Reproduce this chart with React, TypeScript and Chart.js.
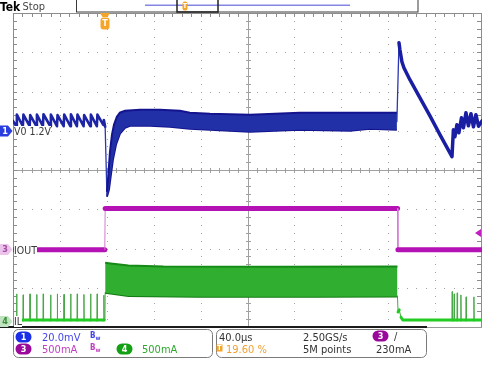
import React, { useEffect, useRef } from 'react';
import { Chart, registerables } from 'chart.js';
Chart.register(...registerables);

// ---- time base: 40 µs/div, 10 divisions, trigger at 19.6 %
const T_MIN = -78.4;
const T_MAX = 321.6;
const T_DIV = 40;

// ---- channel vertical settings (scale per div, ground position in divs)
const CH1_SCALE = 20;   // mV/div, offset 1.2 V
const CH1_POS = 1;
const CH3_SCALE = 500;  // mA/div
const CH3_POS = -2;
const CH4_SCALE = 500;  // mA/div
const CH4_POS = -3.87;

// ---- CH1 (V0, mV relative to 1.2 V)
const ch1Before: [number, number][] = [
  [-78.4, 5.0],
  [-75.6, 2.3], [-75.1, 8.2], [-70.0, 2.3], [-69.5, 8.2], [-64.2, 2.3], [-63.7, 8.0],
  [-58.5, 2.3], [-58.0, 8.2], [-52.9, 2.3], [-52.4, 8.4], [-46.6, 2.3], [-46.1, 8.2],
  [-40.9, 2.3], [-40.4, 8.0], [-35.2, 2.3], [-34.7, 8.2], [-29.5, 2.3], [-29.0, 8.4],
  [-23.9, 2.3], [-23.4, 8.2], [-18.2, 2.3], [-17.7, 8.0], [-12.5, 2.3], [-12.0, 8.2],
  [-6.9, 2.3], [-6.4, 8.2], [-1.4, 3.0], [-0.9, 5.5], [0.2, 2.0], [1.7, -32.5],
];
const ch1BandHigh: [number, number][] = [
  [1.7, -31.1], [2.6, -25.0], [4.3, -10.7], [6.0, -2.0], [7.7, 3.1], [10.2, 7.1],
  [12.8, 9.2], [17.1, 10.2], [29.9, 10.7], [46.9, 10.7], [64.0, 10.2], [72.5, 9.2],
  [89.6, 8.7], [123.7, 8.2], [166.3, 9.2], [208.9, 9.2], [249.0, 9.2],
];
const ch1BandLow: [number, number][] = [
  [1.7, -33.6], [3.4, -30.1], [5.1, -22.4], [6.8, -14.8], [9.4, -7.1], [12.8, -1.5],
  [17.1, 1.5], [21.3, 2.5], [38.4, 2.5], [55.4, 2.0], [72.5, 1.0], [89.6, 0.5],
  [123.7, -0.5], [166.3, 0.5], [208.9, 0.0], [226.0, 1.0], [249.0, 0.5],
];
const ch1After: [number, number][] = [
  [249.0, 4.6], [250.8, 44.8], [251.6, 41.3], [253.3, 35.2], [255.0, 32.1],
  [260.1, 26.0], [268.7, 16.8], [277.2, 7.6], [285.7, -2.0], [296.0, -13.2],
  [297.2, 0.5], [298.5, -3.1], [300.2, 3.1], [301.9, -1.0], [304.1, 6.6], [305.8, 1.5],
  [307.9, 9.2], [310.0, 2.5], [312.2, 8.7], [314.3, 2.0], [316.4, 8.2], [318.6, 2.3],
  [321.6, 5.0],
];

// ---- CH3 (IOUT, mA)
const iout: [number, number][] = [
  [-78.4, -15], [-0.1, -15], [0.2, 510], [249.6, 510], [249.9, -15], [321.6, -15],
];

// ---- CH4 (IL, mA)
const ilBase = 25;
const ilSpikeTimesBefore = [-75.3, -69.7, -63.9, -58.2, -52.6, -46.3, -40.6, -34.9, -29.2, -23.6, -17.9, -12.2, -6.6, -0.9];
const ilSpikeHeightsBefore = [357, 345, 357, 350, 357, 345, 357, 350, 357, 357, 350, 357, 357, 340];
const ilBandHigh: [number, number][] = [
  [0.2, 752], [5.0, 745], [20.0, 720], [50.0, 705], [150.0, 701], [249.5, 705],
];
const ilBandLow: [number, number][] = [
  [0.2, 370], [20.0, 331], [80.0, 319], [180.0, 319], [249.5, 325],
];
const ilRelease: [number, number][] = [
  [249.5, 325], [250.0, 127], [251.0, 153], [252.5, 60], [254.0, 25],
];
const ilSpikeTimesAfter = [296.2, 297.9, 300.5, 303.6, 308.1, 314.7];
const ilSpikeHeightsAfter = [386, 357, 370, 344, 319, 319];

const FONT = '"Liberation Sans Narrow", "DejaVu Sans Condensed", "Roboto", sans-serif';

const toDiv = (pts: [number, number][], scale: number, pos: number) =>
  pts.map(([t, v]) => ({ x: t, y: pos + v / scale }));

const spikes = (times: number[], heights: number[]): [number, number][] => {
  const out: [number, number][] = [];
  times.forEach((t, i) => {
    out.push([t - 0.25, ilBase], [t, heights[i]], [t + 0.25, ilBase]);
  });
  return out;
};

const ilBefore: [number, number][] = [
  [T_MIN, ilBase], ...spikes(ilSpikeTimesBefore, ilSpikeHeightsBefore), [0.0, ilBase], [0.2, 370],
];
const ilAfter: [number, number][] = [
  ...ilRelease, ...spikes(ilSpikeTimesAfter, ilSpikeHeightsAfter), [T_MAX, ilBase],
];

const trace = (data: any[], color: string, width: number, thinColor: string, ratio: number, thinW = 1) => {
  const steep = (c: any) => Math.abs(c.p1.y - c.p0.y) > ratio * Math.abs(c.p1.x - c.p0.x);
  return {
    data,
    borderColor: color,
    borderWidth: width,
    pointRadius: 0,
    tension: 0,
    fill: false,
    borderJoinStyle: 'round',
    borderCapStyle: 'round',
    segment: {
      borderWidth: (c: any) => (steep(c) ? thinW : undefined),
      borderColor: (c: any) => (steep(c) ? thinColor : undefined),
    },
  };
};

const band = (data: any[], edge: string, fillColor: string | false) => ({
  data,
  borderColor: edge,
  borderWidth: 2,
  pointRadius: 0,
  tension: 0,
  fill: fillColor ? '+1' : false,
  backgroundColor: fillColor || 'transparent',
});

const scopeGrid = {
  id: 'scopeGrid',
  beforeDatasetsDraw(chart: any) {
    const { ctx, chartArea: a, scales } = chart;
    const xs = scales.x;
    const ys = scales.y;
    const X = (t: number) => Math.round(xs.getPixelForValue(t));
    const Y = (d: number) => Math.round(ys.getPixelForValue(d));
    ctx.save();
    ctx.fillStyle = '#a3a3a3';
    for (let k = 1; k < 10; k++) {
      if (k === 5) continue;
      const x = X(T_MIN + k * T_DIV);
      for (let m = 1; m < 40; m++) ctx.fillRect(x, Y(-4 + m * 0.2), 1, 1);
    }
    for (let j = -3; j <= 3; j++) {
      if (j === 0) continue;
      const y = Y(j);
      for (let m = 1; m < 50; m++) ctx.fillRect(X(T_MIN + m * 8), y, 1, 1);
    }
    const cx = X(T_MIN + 5 * T_DIV);
    const cy = Y(0);
    ctx.fillStyle = '#a0a0a0';
    ctx.fillRect(cx, a.top, 1, a.bottom - a.top);
    ctx.fillRect(a.left, cy, a.right - a.left, 1);
    for (let m = 1; m < 50; m++) ctx.fillRect(X(T_MIN + m * 8), cy - 2, 1, 5);
    for (let m = 1; m < 40; m++) ctx.fillRect(cx - 2, Y(-4 + m * 0.2), 5, 1);
    ctx.fillStyle = '#8c8c8c';
    for (let m = 1; m < 50; m++) ctx.fillRect(X(T_MIN + m * 8), a.top, 1, 4);
    for (let m = 1; m < 40; m++) {
      const y = Y(-4 + m * 0.2);
      ctx.fillRect(a.left, y, 4, 1);
      ctx.fillRect(a.right - 5, y, 4, 1);
    }
    ctx.fillRect(a.left, a.top, a.right - a.left, 1);
    ctx.fillRect(a.left, a.top, 1, a.bottom - a.top);
    ctx.fillRect(a.right - 1, a.top, 1, a.bottom - a.top);
    ctx.restore();
  },
};

const pill = (ctx: any, cx: number, cy: number, color: string) => {
  ctx.fillStyle = color;
  ctx.beginPath();
  ctx.roundRect(cx - 8, cy - 5.5, 16, 11, 5.5);
  ctx.fill();
};

const chMarker = (ctx: any, cy: number, color: string) => {
  ctx.fillStyle = color;
  ctx.beginPath();
  ctx.moveTo(0, cy - 5.5);
  ctx.lineTo(8, cy - 5.5);
  ctx.lineTo(12.5, cy);
  ctx.lineTo(8, cy + 5.5);
  ctx.lineTo(0, cy + 5.5);
  ctx.closePath();
  ctx.fill();
};

const decorations = {
  id: 'decorations',
  afterDraw(chart: any) {
    const ctx = chart.ctx;
    ctx.save();
    // bottom frame line
    ctx.fillStyle = '#1c1c1c';
    ctx.fillRect(0, 326, 427, 2);
    ctx.fillStyle = '#9a9a9a';
    ctx.fillRect(427, 327, 55, 1);
    // channel ground markers
    chMarker(ctx, 131, '#2a3ee0');
    chMarker(ctx, 249.5, '#ebc3eb');
    chMarker(ctx, 321.5, '#bfe3bf');
    // trigger position marker
    ctx.fillStyle = '#f4a52a';
    ctx.beginPath();
    ctx.moveTo(100, 13);
    ctx.lineTo(110, 13);
    ctx.lineTo(107.5, 17);
    ctx.lineTo(102.5, 17);
    ctx.closePath();
    ctx.fill();
    ctx.beginPath();
    ctx.roundRect(100.5, 17.5, 9, 12, 3);
    ctx.fill();
    // trigger level arrow (right)
    ctx.fillStyle = '#c21fc2';
    ctx.beginPath();
    ctx.moveTo(475, 233);
    ctx.lineTo(481, 229);
    ctx.lineTo(481, 237);
    ctx.closePath();
    ctx.fill();
    // record view bar
    ctx.strokeStyle = '#3a3a3a';
    ctx.lineWidth = 1;
    ctx.strokeRect(76.5, -0.5, 341.5, 12.5);
    ctx.fillStyle = '#8585e6';
    ctx.fillRect(145, 4.5, 205, 1.5);
    ctx.lineWidth = 1.5;
    ctx.strokeStyle = '#222';
    ctx.strokeRect(177, -1, 41, 13);
    ctx.fillStyle = '#f4a52a';
    ctx.beginPath();
    ctx.roundRect(182.5, 1.5, 5, 9, 2);
    ctx.fill();
    // status panels
    ctx.strokeStyle = '#7a7a7a';
    ctx.lineWidth = 1;
    ctx.beginPath();
    ctx.roundRect(13.5, 329.5, 199, 28, 5);
    ctx.stroke();
    ctx.beginPath();
    ctx.roundRect(216.5, 329.5, 210, 28, 5);
    ctx.stroke();
    pill(ctx, 23.5, 337, '#1a2fe6');
    pill(ctx, 23.5, 349, '#9a0a9a');
    pill(ctx, 124.5, 349, '#14a014');
    pill(ctx, 380.5, 336, '#9a0a9a');
    ctx.fillStyle = '#f4a52a';
    ctx.fillRect(216.5, 344.5, 6, 7);
    ctx.restore();
  },
};

const Txt = ({ x, y, c, s = 11, b = false, center = false, bg, children }: any) => (
  <div
    style={{
      position: 'absolute',
      left: x,
      top: y - (bg ? s * 0.5 : s * 0.6),
      fontSize: s,
      lineHeight: bg ? `${s}px` : `${s * 1.2}px`,
      color: c,
      background: bg,
      fontWeight: b ? 700 : 400,
      fontFamily: FONT,
      whiteSpace: 'nowrap',
      transform: center ? 'translateX(-50%)' : undefined,
    }}
  >
    {children}
  </div>
);

const Bw = ({ x, y, c }: any) => (
  <div style={{ position: 'absolute', left: x, top: y - 5, fontSize: 8, lineHeight: '8px', color: c, fontFamily: FONT, fontWeight: 700 }}>
    B<span style={{ fontSize: 6, verticalAlign: -2 }}>w</span>
  </div>
);

export default function App() {
  const ref = useRef<HTMLCanvasElement>(null);
  useEffect(() => {
    const datasets: any[] = [
      band(toDiv(ilBandHigh, CH4_SCALE, CH4_POS), '#168a16', '#2fae2f'),
      band(toDiv(ilBandLow, CH4_SCALE, CH4_POS), '#127a12', false),
      trace(toDiv(ilBefore, CH4_SCALE, CH4_POS), '#22cc22', 3, '#48a848', 4),
      trace(toDiv(ilAfter, CH4_SCALE, CH4_POS), '#22cc22', 3, '#48a848', 4),
      trace(toDiv(iout, CH3_SCALE, CH3_POS), '#b412b4', 5, '#d27ad2', 4),
      band(toDiv(ch1BandHigh, CH1_SCALE, CH1_POS), '#14148e', '#2230a8'),
      band(toDiv(ch1BandLow, CH1_SCALE, CH1_POS), '#14148e', false),
      trace(toDiv(ch1Before, CH1_SCALE, CH1_POS), '#1e24a6', 2.6, '#2a36b4', 30, 1.3),
      trace(toDiv(ch1After, CH1_SCALE, CH1_POS), '#1a1ea2', 3.5, '#2a36b4', 30, 1.3),
    ];
    const chart = new Chart(ref.current as HTMLCanvasElement, {
      type: 'line',
      data: { datasets },
      options: {
        responsive: false,
        animation: false,
        devicePixelRatio: 1,
        events: [],
        parsing: false,
        normalized: true,
        layout: { padding: { left: 13, right: 18, top: 13, bottom: 48 } },
        scales: {
          x: { type: 'linear', min: T_MIN, max: T_MAX, display: false },
          y: { type: 'linear', min: -4, max: 4, display: false },
        },
        plugins: { legend: { display: false }, tooltip: { enabled: false } },
      },
      plugins: [scopeGrid, decorations],
    } as any);
    return () => chart.destroy();
  }, []);

  return (
    <div style={{ position: 'absolute', left: 0, top: 0, width: 500, height: 375, background: '#fff', overflow: 'hidden' }}>
      <canvas ref={ref} width={500} height={375} style={{ position: 'absolute', left: 0, top: 0, width: 500, height: 375 }} />
      <Txt x={0} y={7} s={12} b c="#000">Tek</Txt>
      <Txt x={22.5} y={7} s={11} c="#444">Stop</Txt>
      <Txt x={105} y={23.5} s={9} b c="#fff" center>T</Txt>
      <Txt x={185} y={6} s={7} b c="#fff" center>T</Txt>
      <Txt x={5} y={131} s={9} b c="#fff" center>1</Txt>
      <Txt x={14} y={131} s={10.5} c="#3a3a3a" bg="#fff">V0 1.2V</Txt>
      <Txt x={5} y={249.5} s={9} b c="#a050a0" center>3</Txt>
      <Txt x={14} y={250} s={10.5} c="#3a3a3a" bg="#fff">IOUT</Txt>
      <Txt x={5} y={321.5} s={9} b c="#3a8a3a" center>4</Txt>
      <Txt x={14} y={321.5} s={10.5} c="#3a3a3a" bg="#fff">IL</Txt>

      <Txt x={23.5} y={337} s={9} b c="#fff" center>1</Txt>
      <Txt x={23.5} y={349} s={9} b c="#fff" center>3</Txt>
      <Txt x={124.5} y={349} s={9} b c="#fff" center>4</Txt>
      <Txt x={380.5} y={336} s={9} b c="#fff" center>3</Txt>
      <Txt x={42} y={337.5} s={11} c="#4646e6">20.0mV</Txt>
      <Bw x={90} y={337} c="#4646e6" />
      <Txt x={42} y={349.5} s={11} c="#c040c0">500mA</Txt>
      <Bw x={90} y={349} c="#c040c0" />
      <Txt x={142} y={349.5} s={11} c="#2ea82e">500mA</Txt>

      <Txt x={219} y={337.5} s={11} c="#333">40.0µs</Txt>
      <Txt x={219.5} y={348} s={7} b c="#fff" center>T</Txt>
      <Txt x={226} y={349.5} s={11} c="#f0a030">19.60 %</Txt>
      <Txt x={303} y={337.5} s={11} c="#333">2.50GS/s</Txt>
      <Txt x={303} y={349.5} s={11} c="#333">5M points</Txt>
      <Txt x={394} y={337} s={11} c="#333">/</Txt>
      <Txt x={376} y={349.5} s={11} c="#333">230mA</Txt>
    </div>
  );
}
